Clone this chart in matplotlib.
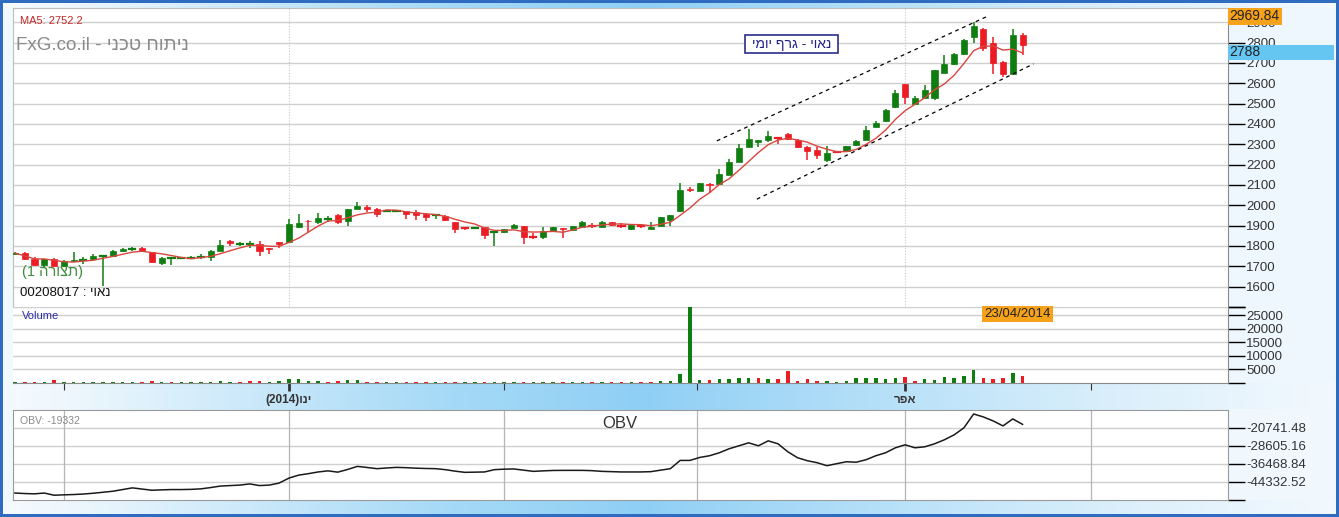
import numpy as np
import matplotlib
matplotlib.use("Agg")
import matplotlib.pyplot as plt
from matplotlib.patches import Rectangle
from matplotlib.colors import LinearSegmentedColormap

# ---------------- data ----------------
opens = [1760, 1765, 1735, 1708, 1736, 1700, 1726, 1731, 1736, 1752,
         1751, 1773, 1784, 1790, 1770, 1718, 1740, 1740, 1741, 1745,
         1746, 1776, 1826, 1810, 1806, 1809, 1790, 1818, 1821, 1891,
         1925, 1917, 1932, 1951, 1924, 1984, 1992, 1984, 1971, 1971,
         1972, 1966, 1959, 1950, 1948, 1917, 1888, 1889, 1891, 1868,
         1869, 1890, 1897, 1847, 1844, 1872, 1887, 1880, 1892, 1902,
         1893, 1918, 1902, 1883, 1898, 1883, 1900, 1930, 1971, 2080,
         2070, 2106, 2103, 2149, 2214, 2288, 2309, 2321, 2333, 2351,
         2321, 2286, 2270, 2221, 2266, 2266, 2294, 2323, 2386, 2413,
         2484, 2594, 2500, 2526, 2526, 2651, 2695, 2744, 2825, 2868,
         2798, 2705, 2646, 2838]
highs = [1768, 1768, 1745, 1738, 1740, 1732, 1768, 1748, 1760, 1758,
         1778, 1788, 1797, 1797, 1772, 1746, 1743, 1745, 1750, 1760,
         1782, 1828, 1828, 1818, 1822, 1822, 1792, 1820, 1935, 1956,
         1927, 1963, 1949, 1956, 1983, 2016, 2000, 1986, 1976, 1976,
         1974, 1976, 1962, 1959, 1951, 1920, 1890, 1892, 1893, 1871,
         1883, 1906, 1900, 1862, 1893, 1895, 1889, 1900, 1925, 1912,
         1923, 1920, 1912, 1906, 1903, 1920, 1943, 1953, 2108, 2091,
         2112, 2108, 2177, 2230, 2300, 2375, 2323, 2367, 2338, 2355,
         2325, 2290, 2286, 2289, 2268, 2292, 2322, 2392, 2412, 2472,
         2566, 2598, 2538, 2591, 2666, 2741, 2750, 2818, 2900, 2872,
         2825, 2708, 2868, 2846]
lows = [1758, 1730, 1700, 1697, 1698, 1698, 1722, 1712, 1733, 1605,
        1748, 1770, 1773, 1772, 1718, 1705, 1707, 1735, 1735, 1738,
        1725, 1774, 1800, 1802, 1790, 1750, 1760, 1790, 1818, 1888,
        1870, 1910, 1918, 1909, 1898, 1980, 1968, 1943, 1968, 1968,
        1935, 1930, 1923, 1935, 1925, 1862, 1880, 1886, 1833, 1800,
        1866, 1886, 1811, 1835, 1835, 1868, 1839, 1878, 1890, 1888,
        1891, 1900, 1888, 1880, 1886, 1881, 1898, 1900, 1965, 2066,
        2068, 2062, 2100, 2147, 2212, 2285, 2285, 2310, 2303, 2320,
        2283, 2221, 2228, 2215, 2262, 2263, 2290, 2320, 2383, 2410,
        2480, 2500, 2497, 2522, 2520, 2648, 2690, 2740, 2797, 2760,
        2646, 2630, 2643, 2741]
closes = [1765, 1737, 1708, 1735, 1703, 1728, 1731, 1733, 1753, 1753,
          1773, 1784, 1786, 1774, 1720, 1743, 1741, 1741, 1742, 1746,
          1776, 1806, 1814, 1811, 1808, 1773, 1787, 1812, 1906, 1914,
          1922, 1937, 1934, 1919, 1980, 1995, 1982, 1956, 1973, 1973,
          1956, 1951, 1940, 1951, 1930, 1883, 1886, 1890, 1854, 1870,
          1881, 1902, 1844, 1845, 1875, 1892, 1882, 1897, 1917, 1900,
          1920, 1905, 1900, 1903, 1896, 1893, 1941, 1950, 2073, 2077,
          2108, 2100, 2152, 2215, 2284, 2326, 2321, 2343, 2331, 2325,
          2286, 2266, 2245, 2256, 2264, 2289, 2318, 2370, 2404, 2468,
          2551, 2533, 2526, 2565, 2663, 2695, 2746, 2814, 2882, 2773,
          2700, 2646, 2838, 2788]
volumes = [300, 300, 300, 300, 1000, 300, 300, 300, 300, 300,
           300, 300, 300, 400, 700, 300, 300, 300, 300, 300,
           400, 600, 300, 300, 600, 800, 300, 600, 1600, 1500,
           700, 700, 300, 800, 1000, 1000, 300, 300, 300, 300,
           300, 300, 300, 300, 300, 300, 300, 300, 300, 300,
           300, 300, 400, 300, 300, 300, 300, 300, 300, 300,
           300, 350, 350, 350, 300, 300, 700, 800, 3300, 28000,
           1000, 1000, 1400, 1400, 1750, 1750, 1750, 1400, 1400, 4500,
           750, 1400, 600, 600, 250, 600, 1750, 1750, 1750, 1500,
           1750, 2250, 600, 1400, 1000, 2100, 1900, 2500, 4700, 1900,
           1500, 1900, 3700, 2500]
obv = [-49173, -49390, -49519, -49173, -50124, -49951, -49821, -49605, -49260, -48828,
       -48396, -47661, -46927, -47445, -47964, -47791, -47661, -47661, -47575, -47358,
       -46797, -46149, -45932, -45716, -45198, -45932, -45716, -44852, -42692, -41395,
       -40747, -40012, -39537, -40099, -38933, -37593, -38069, -38587, -38285, -38026,
       -38155, -38371, -38501, -38587, -39019, -39667, -40186, -40099, -40012, -39019,
       -38804, -38717, -39235, -39754, -39537, -39365, -39322, -39322, -39322, -39451,
       -39754, -39883, -40012, -40012, -40012, -39883, -39235, -38587, -35001, -35001,
       -33705, -32970, -31673, -29945, -28649, -27352, -28649, -26488, -27785, -31241,
       -33834, -35130, -35994, -37290, -36426, -35562, -35778, -34698, -32970, -31673,
       -29513, -28216, -29513, -29081, -27785, -26056, -23896, -20871, -14822, -16118,
       -17846, -20007, -16982, -19332]

price_ticks = [1500, 1600, 1700, 1800, 1900, 2000, 2100, 2200, 2300, 2400, 2500, 2600, 2700, 2800, 2900]
price_top = 2969.84
vol_ticks = [0, 5000, 10000, 15000, 20000, 25000]
vol_top = 28130
obv_ticks = [-44332.52, -36468.84, -28605.16, -20741.48]
obv_limits = [-52196.2, -12877.8]

month_idx = [5, 28, 50, 69.7, 91, 110]
month_labels = ["", "(2014)וני", "", "", "רפא", ""]   # glyphs in visual (left-to-right) order
month_major = [False, True, False, False, True, False]

channel_upper_x = [71.75, 99.36]
channel_upper_y = [2316.6, 2928.0]
channel_lower_x = [75.84, 104.12]
channel_lower_y = [2030.0, 2695.0]

# ---------------- figure ----------------
W, H = 1339, 517
fig = plt.figure(figsize=(W / 100, H / 100), dpi=100)
FONT = ["Liberation Sans", "DejaVu Sans"]
plt.rcParams["font.family"] = FONT


def fx(x):
    return x / W


def fy(y):
    return 1 - y / H


def ax_rect(x0, y0, x1, y1):
    return [fx(x0), fy(y1), fx(x1) - fx(x0), fy(y0) - fy(y1)]


# background gradient
bg = fig.add_axes([0, 0, 1, 1], zorder=-10)
cmap = LinearSegmentedColormap.from_list(
    "bgc", [(0, "#f5fafe"), (0.05, "#eef7fd"), (0.33, "#a6daf7"), (0.48, "#8fcff5"),
            (0.7, "#bfe4f9"), (0.82, "#d8eefb"), (1.0, "#f3f9fe")])
grad = np.linspace(0, 1, 512).reshape(1, -1)
bg.imshow(grad, aspect="auto", cmap=cmap, extent=[0, 1, 0, 1])
bg.set_axis_off()
bg.add_patch(Rectangle((fx(1228), fy(383)), 1 - fx(1228), fy(8) - fy(383), color="#eef7fd", lw=0))
bg.add_patch(Rectangle((fx(1228), fy(500)), 1 - fx(1228), fy(409) - fy(500), color="#f0f8fe", lw=0))
bg.add_patch(Rectangle((0, fy(500)), fx(13), fy(8) - fy(500), color="#f2f9fe", lw=0))
bg.set_xlim(0, 1)
bg.set_ylim(0, 1)

xmin, xmax = -0.2, 124.0
n = len(closes)
xs = np.arange(n)
GREEN = "#0f7d10"
RED = "#ec1c24"
GRID = "#cfcfcf"

# ---------------- main price panel ----------------
ax = fig.add_axes(ax_rect(13, 8, 1228, 307))
ax.set_facecolor("white")
ax.set_xlim(xmin, xmax)
ax.set_ylim(price_ticks[0], price_top)
for v in price_ticks[1:]:
    ax.axhline(v, color=GRID, lw=1, zorder=0)
for i, m in enumerate(month_idx):
    if month_major[i]:
        ax.axvline(m, color="#c8c8c8", lw=0.8, ls=(0, (1, 1.5)), zorder=0)

body_w = 0.62
for i in range(n):
    o, h, l, c = opens[i], highs[i], lows[i], closes[i]
    col = GREEN if c >= o else RED
    ax.plot([i, i], [l, h], color=col, lw=1.1, zorder=2, solid_capstyle="butt")
    bh = abs(c - o)
    if bh < 3:
        ax.plot([i - body_w / 2, i + body_w / 2], [c, c], color=col, lw=1.6, zorder=3)
    else:
        ax.add_patch(Rectangle((i - body_w / 2, min(o, c)), body_w, bh,
                               facecolor=col, edgecolor=col, lw=0.5, zorder=3))

ma5 = np.array([np.mean(closes[max(0, i - 4):i + 1]) for i in range(n)])
ax.plot(xs, ma5, color="#d9463f", lw=1.0, zorder=4)

ax.plot(channel_upper_x, channel_upper_y, color="black", lw=0.9, ls=(0, (3, 3)), zorder=4)
ax.plot(channel_lower_x, channel_lower_y, color="black", lw=0.9, ls=(0, (3, 3)), zorder=4)

ax.yaxis.tick_right()
ax.set_yticks(price_ticks)
ax.set_yticklabels([""] + [str(v) for v in price_ticks[1:]])
ax.tick_params(axis="y", length=12, width=1, color="black", labelsize=9.5,
               labelcolor="#333333", pad=1, direction="out")
ax.set_xticks([])
for s in ["left", "top"]:
    ax.spines[s].set_color("#bdbdbd")
ax.spines["right"].set_color("#8a8a8a")
ax.spines["bottom"].set_visible(False)

# ---------------- volume panel ----------------
axv = fig.add_axes(ax_rect(13, 307, 1228, 383))
axv.set_facecolor("white")
axv.set_xlim(xmin, xmax)
axv.set_ylim(0, vol_top)
for v in vol_ticks[1:] + [vol_top]:
    axv.axhline(v, color=GRID, lw=1, zorder=0)
vcols = [GREEN] + [GREEN if closes[i] >= closes[i - 1] else RED for i in range(1, n)]
axv.bar(xs, volumes, width=0.36, color=vcols, zorder=2)
axv.yaxis.tick_right()
axv.set_yticks(vol_ticks + [vol_top])
axv.set_yticklabels([""] + [str(v) for v in vol_ticks[1:]] + [""])
axv.tick_params(axis="y", length=12, width=1, color="black", labelsize=9.5,
                labelcolor="#333333", pad=1)
axv.set_xticks(month_idx)
axv.set_xticklabels(month_labels, fontsize=8.5, color="#333333", fontweight="bold")
axv.tick_params(axis="x", length=6, width=2, color="#333333", pad=2)
for t, major in zip(axv.xaxis.get_major_ticks(), month_major):
    if not major:
        t.tick1line.set_color("#e07070")
        t.tick1line.set_markeredgewidth(0.8)
        t.tick1line.set_markersize(5)
for s in ["left", "top"]:
    axv.spines[s].set_visible(False)
axv.spines["right"].set_color("#8a8a8a")
axv.spines["bottom"].set_color("#8a8a8a")

# ---------------- OBV panel ----------------
axo = fig.add_axes(ax_rect(13, 409.5, 1228, 500))
axo.set_facecolor("white")
axo.set_xlim(xmin, xmax)
axo.set_ylim(*obv_limits)
for v in obv_ticks:
    axo.axhline(v, color=GRID, lw=1, zorder=0)
for m in month_idx:
    axo.axvline(m, color="#b5b5b5", lw=0.9, zorder=0)
axo.plot(xs, obv, color="#1a1a1a", lw=1.1, zorder=3)
axo.yaxis.tick_right()
axo.set_yticks(obv_ticks + [obv_limits[0]])
axo.set_yticklabels(["%.2f" % v for v in obv_ticks] + [""])
axo.tick_params(axis="y", length=12, width=1, color="black", labelsize=9.5,
                labelcolor="#333333", pad=1)
axo.set_xticks([])
for s in axo.spines.values():
    s.set_color("#9a9a9a")

# ---------------- texts (Hebrew glyphs given in visual order) ----------------
fig.text(fx(20), fy(21), "MA5: 2752.2", color="#c62828", fontsize=8, va="center", ha="left")
fig.text(fx(16), fy(46), "FxG.co.il - ינכט חותינ", color="#8a8a8a", fontsize=13.5,
         va="center", ha="left")
fig.add_artist(Rectangle((fx(745), fy(53)), fx(838) - fx(745), fy(35) - fy(53),
                         transform=fig.transFigure, facecolor="white", edgecolor="#2c2c8c", lw=1.2))
fig.text(fx(791.5), fy(44), "ימוי ףרג - יואנ", color="#22228a", fontsize=10,
         ha="center", va="center")
fig.text(fx(22), fy(272), "(1 הרוצת)", color="#3c8c3c", fontsize=10.5, ha="left", va="center")
fig.text(fx(20), fy(293), "00208017 : יואנ", color="#111111", fontsize=9.5, ha="left", va="center")
fig.text(fx(22), fy(316), "Volume", color="#2a2aa8", fontsize=8, ha="left", va="center")
fig.text(fx(20), fy(421), "OBV: -19332", color="#8a8a8a", fontsize=7.5, ha="left", va="center")
fig.text(fx(620), fy(423), "OBV", color="#333333", fontsize=12, ha="center", va="center")


def label_box(x0, y0, x1, y1, fc, txt, fs, ha="left", tx=None):
    fig.add_artist(Rectangle((fx(x0), fy(y1)), fx(x1) - fx(x0), fy(y0) - fy(y1),
                             transform=fig.transFigure, facecolor=fc, edgecolor="none", zorder=20))
    fig.text(fx(tx if tx is not None else x0 + 1), fy((y0 + y1) / 2), txt, fontsize=fs,
             color="#222222", ha=ha, va="center", zorder=21)


label_box(1228, 8, 1282, 25, "#f7a21b", "2969.84", 10)
label_box(1228, 45, 1334, 60, "#66c6f2", "2788", 10)
label_box(982, 306, 1053, 322, "#f7a21b", "23/04/2014", 9.5, ha="center", tx=1017.5)

# outer border
for (x0, y0, x1, y1) in [(0, 0, W, 2.5), (0, H - 3, W, H), (0, 0, 3, H), (W - 3, 0, W, H)]:
    fig.add_artist(Rectangle((fx(x0), fy(y1)), fx(x1) - fx(x0), fy(y0) - fy(y1),
                             transform=fig.transFigure, facecolor="#2f6cc0", edgecolor="none", zorder=30))

fig.savefig("out.png", dpi=100)
